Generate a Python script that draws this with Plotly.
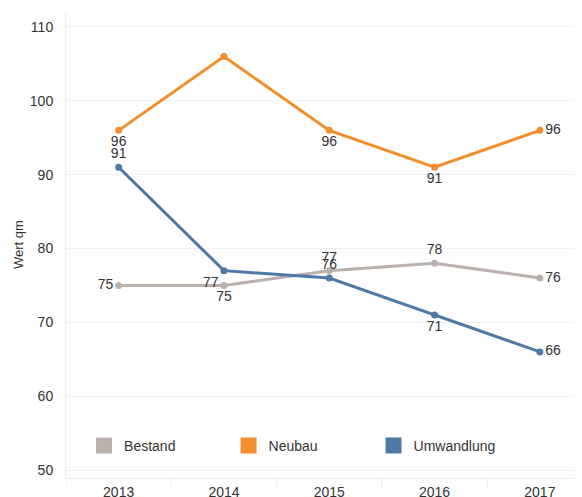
import plotly.graph_objects as go

years = ["2013", "2014", "2015", "2016", "2017"]
bestand = [75, 75, 77, 78, 76]
neubau = [96, 106, 96, 91, 96]
umwandlung = [91, 77, 76, 71, 66]

bestand_pos = ["middle left", "bottom center", "top center", "top center", "middle right"]
neubau_pos = ["bottom center", "top center", "bottom center", "bottom center", "middle right"]
neubau_txt = ["96", "", "96", "91", "96"]
umw_pos = ["top center", "bottom left", "top center", "bottom center", "middle right"]

colors = {"Bestand": "#bab0ac", "Neubau": "#f28e2b", "Umwandlung": "#4e79a7"}
font = "Liberation Sans, Arial, sans-serif"

fig = go.Figure()
series = [
    ("Bestand", bestand, [str(v) for v in bestand], bestand_pos),
    ("Neubau", neubau, neubau_txt, neubau_pos),
    ("Umwandlung", umwandlung, [str(v) for v in umwandlung], umw_pos),
]
for name, vals, txt, pos in series:
    fig.add_trace(go.Scatter(
        x=list(range(len(years))), y=vals, mode="lines+markers+text",
        text=txt, textposition=pos,
        textfont=dict(family=font, size=14, color="#333333"),
        line=dict(color=colors[name], width=3),
        marker=dict(color=colors[name], size=7),
        showlegend=False, cliponaxis=False, name=name))

legend_ids = ["legend", "legend2", "legend3"]
legend_x = [0.035, 0.315, 0.596]
for (name, _, _, _), lid in zip(series, legend_ids):
    fig.add_trace(go.Scatter(
        x=[None], y=[None], mode="markers", name=name, legend=lid,
        marker=dict(symbol="square", size=17, color=colors[name])))

leg_common = dict(orientation="h", y=0.0687, xanchor="left", yanchor="middle",
                  font=dict(size=14, color="#333333"), bgcolor="rgba(0,0,0,0)")
layout_legends = {lid: dict(x=lx, **leg_common) for lid, lx in zip(legend_ids, legend_x)}

# page has an 8px body margin, so the figure is sized to the visible area
fig.update_layout(
    width=574, height=489,
    margin=dict(l=58, r=0, t=4, b=19),
    plot_bgcolor="white", paper_bgcolor="white",
    font=dict(family=font, size=13, color="#333333"),
    xaxis=dict(tickmode="array", tickvals=list(range(len(years))), ticktext=years,
               range=[-0.5, 4.4], showgrid=False, zeroline=False,
               showline=True, linecolor="#eeeeee", linewidth=1,
               ticks="", tickfont=dict(size=14), ticklabelstandoff=1,
               automargin=False),
    yaxis=dict(range=[48.92, 112.03], tickvals=[50, 60, 70, 80, 90, 100, 110],
               showgrid=True, gridcolor="#f0f0f0", zeroline=False,
               showline=True, linecolor="#eeeeee", linewidth=1,
               tickfont=dict(size=14), ticks="", ticklabelstandoff=9,
               automargin=False),
    annotations=[dict(text="Wert qm", xref="paper", yref="paper", x=-0.093, y=0.5,
                      xanchor="center", yanchor="middle",
                      textangle=-90, showarrow=False,
                      font=dict(size=13, color="#333333"))],
    **layout_legends,
)
for i in range(len(years)):
    fig.add_shape(type="line", xref="x", yref="paper", x0=i - 0.5, x1=i - 0.5,
                  y0=-0.02, y1=0, line=dict(color="#eeeeee", width=1))

fig.write_html("out.html")
